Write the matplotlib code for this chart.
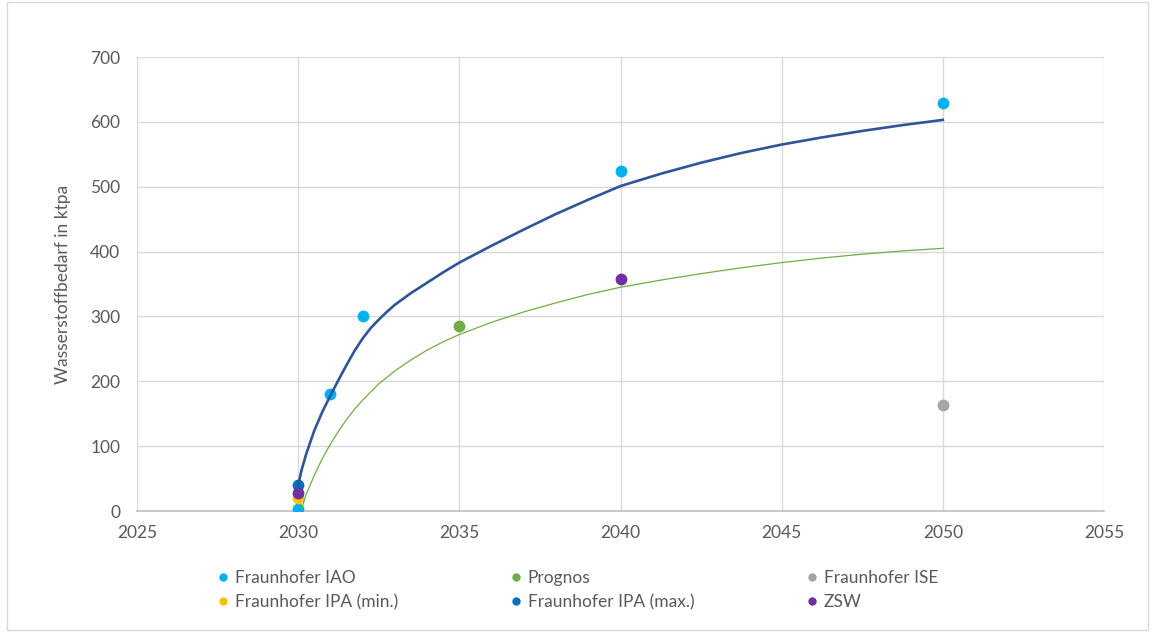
import matplotlib.pyplot as plt
from matplotlib.patches import Rectangle
from matplotlib.lines import Line2D

plt.rcParams['font.family'] = ['Lato', 'DejaVu Sans']

# Datenpunkte je Studie (Jahr, Wasserstoffbedarf in ktpa)
iao_years = [2030, 2031, 2032, 2040, 2050]
iao_vals = [3, 180, 300, 524, 629]
prognos_years = [2035]
prognos_vals = [285]
ise_years = [2050]
ise_vals = [163]
ipa_min_years = [2030]
ipa_min_vals = [20]
ipa_max_years = [2030]
ipa_max_vals = [40]
zsw_years = [2030, 2040]
zsw_vals = [27, 358]

# Trendlinien
trend_blue_years = [2030, 2030.1, 2030.25, 2030.5, 2030.75, 2031, 2031.25, 2031.5, 2031.75,
                    2032, 2032.25, 2032.5, 2032.75, 2033, 2033.5, 2034, 2034.5, 2035,
                    2036, 2037, 2038, 2039, 2040, 2041.25, 2042.5, 2043.75, 2045,
                    2046.25, 2047.5, 2048.75, 2050]
trend_blue_vals = [40, 62, 88, 124, 153, 178, 202, 225, 247,
                   266, 282, 295, 307, 318, 336, 352, 368, 383,
                   409, 434, 458, 480, 501, 520, 537, 552, 565,
                   576, 586, 595, 603]
trend_green_years = [2030.1, 2030.25, 2030.5, 2030.75, 2031, 2031.25, 2031.5, 2031.75,
                     2032, 2032.5, 2033, 2033.5, 2034, 2034.5, 2035, 2036, 2037, 2038,
                     2039, 2040, 2041.25, 2042.5, 2043.75, 2045, 2046.25, 2047.5,
                     2048.75, 2050]
trend_green_vals = [2, 26, 55, 81, 103, 123, 141, 157,
                    171, 196, 216, 233, 248, 261, 272, 291, 307, 321,
                    334, 345, 356, 366, 375, 383, 390, 396, 401, 405]

series = [
    ('Fraunhofer IAO', iao_years, iao_vals, '#00B0F0'),
    ('Prognos', prognos_years, prognos_vals, '#70AD47'),
    ('Fraunhofer ISE', ise_years, ise_vals, '#A5A5A5'),
    ('Fraunhofer IPA (min.)', ipa_min_years, ipa_min_vals, '#FFC000'),
    ('Fraunhofer IPA (max.)', ipa_max_years, ipa_max_vals, '#0070C0'),
    ('ZSW', zsw_years, zsw_vals, '#7030A0'),
]

fig = plt.figure(figsize=(11.56, 6.32), dpi=100)
ax = fig.add_axes([137 / 1156, 1 - 511 / 632, (1104 - 137) / 1156, (511 - 57) / 632])

handles = {}
for i, (name, xs, ys, col) in enumerate(series):
    ax.plot(xs, ys, linestyle='none', marker='o', markersize=8.5,
            color=col, markeredgewidth=0, zorder=3 + i * 0.1)
    handles[name] = Line2D([], [], linestyle='none', marker='o', markersize=6,
                           color=col, markeredgewidth=0)

# Trendlinien oben drauf
ax.plot(trend_blue_years, trend_blue_vals, color='#2F5597', lw=1.9, zorder=5,
        solid_joinstyle='round')
ax.plot(trend_green_years, trend_green_vals, color='#70AD47', lw=0.9, zorder=5,
        solid_joinstyle='round')

ax.set_xlim(2025, 2055)
ax.set_ylim(0, 700)
ax.set_xticks(range(2025, 2056, 5))
ax.set_yticks(range(0, 701, 100))
ax.grid(True, color='#D9D9D9', lw=1)
ax.set_axisbelow(True)
for side in ['top', 'right', 'left']:
    ax.spines[side].set_visible(False)
ax.spines['bottom'].set_color('#BFBFBF')
ax.spines['bottom'].set_linewidth(1.2)
ax.tick_params(length=0, labelsize=12.5, colors='#595959', pad=10)
ax.tick_params(axis='y', pad=12)
ax.set_ylabel('Wasserstoffbedarf in ktpa', fontsize=12.5, color='#595959', labelpad=14)

# Legende zeilenweise wie im Original (matplotlib fuellt spaltenweise)
order = ['Fraunhofer IAO', 'Fraunhofer IPA (min.)', 'Prognos',
         'Fraunhofer IPA (max.)', 'Fraunhofer ISE', 'ZSW']
leg = fig.legend([handles[n] for n in order], order, ncol=3, loc='center',
                 bbox_to_anchor=(0.5, 1 - 590 / 632), frameon=False,
                 fontsize=12.5, handlelength=0.6, handletextpad=0.4,
                 columnspacing=6.45, labelspacing=0.5)
for t in leg.get_texts():
    t.set_color('#595959')

# Rahmen um das Diagramm
fig.patches.append(Rectangle((7 / 1156, 2 / 632), 1141 / 1156, 628 / 632,
                             transform=fig.transFigure, fill=False,
                             edgecolor='#D9D9D9', lw=1))

fig.savefig('out.png', dpi=100)
